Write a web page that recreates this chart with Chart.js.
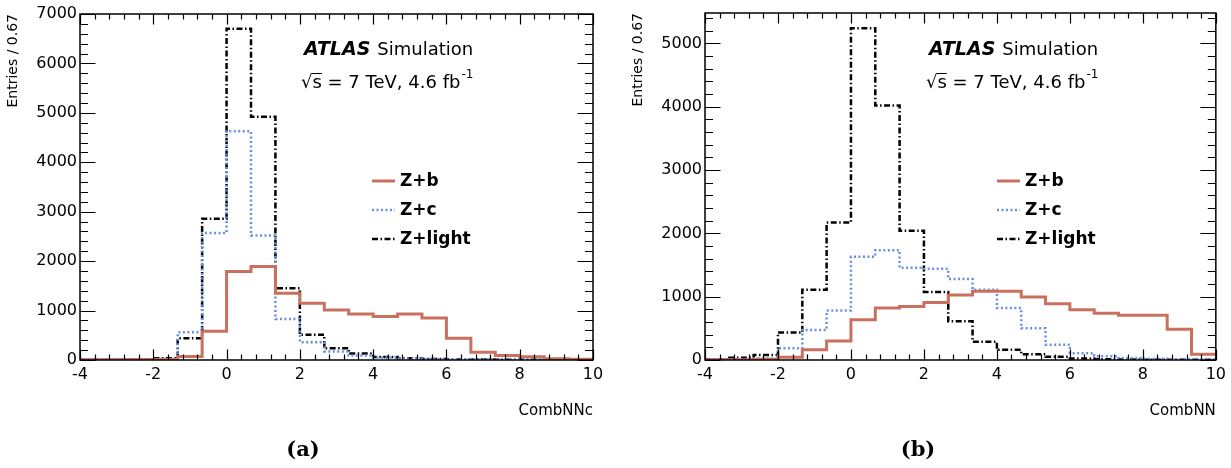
<!DOCTYPE html>
<html>
<head>
<meta charset="utf-8">
<script src="https://cdn.jsdelivr.net/npm/chart.js@4/dist/chart.umd.min.js"></script>
<style>
  html, body { margin: 0; padding: 0; background: #fff; }
  #wrap { position: relative; width: 1231px; height: 468px; overflow: hidden; }
  canvas { position: absolute; top: 0; }
</style>
</head>
<body>
<div id="wrap">
  <canvas id="left" width="615" height="468" style="left:0px"></canvas>
  <canvas id="right" width="616" height="468" style="left:615px"></canvas>
</div>
<script>
// bin edges (21 bins of 0.67 from -4 to 10)
var binEdges = [-4, -3.333, -2.667, -2, -1.333, -0.667, 0, 0.667, 1.333, 2, 2.667,
                3.333, 4, 4.667, 5.333, 6, 6.667, 7.333, 8, 8.667, 9.333, 10];
var xTicks = [-4, -2, 0, 2, 4, 6, 8, 10];
var yTicksLeft = [0, 1000, 2000, 3000, 4000, 5000, 6000, 7000];
var yTicksRight = [0, 1000, 2000, 3000, 4000, 5000];

// (a) CombNNc
var leftZb     = [5, 5, 8, 12, 70, 580, 1790, 1890, 1350, 1150, 1010, 930, 880, 930, 850, 440, 155, 90, 65, 25, 15];
var leftZc     = [2, 3, 5, 20, 560, 2570, 4630, 2520, 830, 360, 170, 90, 50, 30, 20, 12, 8, 5, 3, 2, 1];
var leftZlight = [3, 5, 10, 35, 440, 2860, 6700, 4920, 1450, 510, 240, 130, 60, 35, 20, 12, 8, 5, 3, 2, 1];

// (b) CombNN
var rightZb     = [3, 5, 10, 42, 160, 300, 635, 820, 846, 910, 1025, 1085, 1085, 995, 890, 795, 740, 705, 705, 487, 90];
var rightZc     = [3, 8, 25, 185, 475, 780, 1630, 1735, 1455, 1440, 1280, 1110, 820, 500, 240, 105, 60, 30, 18, 10, 5];
var rightZlight = [10, 35, 80, 435, 1110, 2170, 5240, 4020, 2040, 1075, 610, 290, 160, 90, 50, 25, 12, 8, 5, 3, 2];

var seriesNames  = ['Z+b', 'Z+c', 'Z+light'];
var seriesColors = ['#c9705f', '#6a8fe0', '#000000'];
var seriesDash   = [[], [2, 2.5], [6, 2.5, 1.5, 2.5]];
var seriesWidth  = [3, 2.5, 2.5];

var FONT = '"DejaVu Sans", "Liberation Sans", sans-serif';

// each bin becomes a flat segment from its low edge to its high edge
function histPoints(values) {
    var pts = [];
    for (var i = 0; i < values.length; i++) {
        pts.push({x: binEdges[i], y: values[i]});
        pts.push({x: binEdges[i + 1], y: values[i]});
    }
    return pts;
}

// frame, inner ticks, titles, ATLAS label and legend
var decor = {
    id: 'atlasDecor',
    afterDraw: function(chart, args, opts) {
        var ctx = chart.ctx;
        var a = chart.chartArea;
        var xs = chart.scales.x, ys = chart.scales.y;
        ctx.save();
        ctx.strokeStyle = '#000';
        ctx.fillStyle = '#000';

        // frame
        ctx.lineWidth = 1.5;
        ctx.strokeRect(a.left, a.top, a.right - a.left, a.bottom - a.top);

        // ticks inside the frame
        ctx.lineWidth = 1.2;
        ctx.beginPath();
        for (var v = -4; v <= 10.001; v += 0.4) {
            var px = Math.round(xs.getPixelForValue(v)) + 0.5;
            var major = Math.abs(v / 2 - Math.round(v / 2)) < 0.01;
            var len = major ? 10.5 : 5.5;
            ctx.moveTo(px, a.bottom); ctx.lineTo(px, a.bottom - len);
            ctx.moveTo(px, a.top); ctx.lineTo(px, a.top + len);
        }
        for (var w = 0; w <= ys.max + 0.1; w += 200) {
            var py = Math.round(ys.getPixelForValue(w)) + 0.5;
            var len2 = (w % 1000 === 0) ? 15.5 : 8;
            ctx.moveTo(a.left, py); ctx.lineTo(a.left + len2, py);
            ctx.moveTo(a.right, py); ctx.lineTo(a.right - len2, py);
        }
        ctx.stroke();

        // axis titles
        ctx.textBaseline = 'middle';
        ctx.font = '14px ' + FONT;
        ctx.save();
        ctx.translate(a.left - 67, a.top);
        ctx.rotate(-Math.PI / 2);
        ctx.textAlign = 'right';
        ctx.fillText('Entries / 0.67', 0, 0);
        ctx.restore();

        ctx.font = '15px ' + FONT;
        ctx.textAlign = 'right';
        ctx.fillText(opts.xTitle, a.right, 411);

        // caption
        ctx.font = 'bold 21px "DejaVu Serif", "Liberation Serif", serif';
        ctx.textAlign = 'center';
        ctx.fillText(opts.caption, 303, 451);

        // ATLAS Simulation
        ctx.textAlign = 'left';
        ctx.font = 'italic bold 19px ' + FONT;
        ctx.fillText('ATLAS', a.left + 224, 50);
        var wAtlas = ctx.measureText('ATLAS').width;
        ctx.font = '18px ' + FONT;
        ctx.fillText('Simulation', a.left + 224 + wAtlas + 7, 50);

        // sqrt(s) line
        var x0 = a.left + 221, y0 = 83;
        ctx.font = '18px ' + FONT;
        var wr = ctx.measureText('\u221A').width;
        var wsq = ctx.measureText('\u221As').width;
        ctx.fillText('\u221As = 7 TeV, 4.6 fb', x0, y0);
        ctx.lineWidth = 1;
        ctx.beginPath();
        ctx.moveTo(x0 + wr - 1, y0 - 9.5);
        ctx.lineTo(x0 + wsq, y0 - 9.5);
        ctx.stroke();
        var wAll = ctx.measureText('\u221As = 7 TeV, 4.6 fb').width;
        ctx.font = '12px ' + FONT;
        ctx.fillText('-1', x0 + wAll + 1, y0 - 8);

        // legend
        for (var i = 0; i < seriesNames.length; i++) {
            var ly = 181 + i * 29;
            ctx.strokeStyle = seriesColors[i];
            ctx.lineWidth = seriesWidth[i];
            ctx.setLineDash(seriesDash[i]);
            ctx.beginPath();
            ctx.moveTo(a.left + 292, ly);
            ctx.lineTo(a.left + 315, ly);
            ctx.stroke();
            ctx.setLineDash([]);
            ctx.fillStyle = '#000';
            ctx.font = 'bold 17px ' + FONT;
            ctx.fillText(seriesNames[i], a.left + 320, ly + 1);
        }
        ctx.restore();
    }
};

function plainTick(v) { return String(v); }

function makePanel(canvasId, values, yMax, yTicks, axisWidth, pad, xTitle, caption) {
    var datasets = [];
    for (var i = 0; i < seriesNames.length; i++) {
        datasets.push({
            label: seriesNames[i],
            data: histPoints(values[i]),
            borderColor: seriesColors[i],
            borderWidth: seriesWidth[i],
            borderDash: seriesDash[i],
            pointRadius: 0,
            fill: false,
            tension: 0
        });
    }
    return new Chart(document.getElementById(canvasId), {
        type: 'line',
        data: {datasets: datasets},
        options: {
            responsive: false,
            animation: false,
            devicePixelRatio: 1,
            layout: {padding: pad, autoPadding: false},
            plugins: {
                legend: {display: false},
                tooltip: {enabled: false},
                atlasDecor: {xTitle: xTitle, caption: caption}
            },
            scales: {
                x: {
                    type: 'linear', min: -4, max: 10,
                    afterBuildTicks: function(s) { s.ticks = xTicks.map(function(v) { return {value: v}; }); },
                    afterFit: function(s) { s.height = 108; },
                    grid: {display: false, drawTicks: false},
                    border: {display: false},
                    ticks: {padding: 5, maxRotation: 0, color: '#000', callback: plainTick,
                            font: {family: FONT, size: 16}}
                },
                y: {
                    type: 'linear', min: 0, max: yMax,
                    afterBuildTicks: function(s) { s.ticks = yTicks.map(function(v) { return {value: v}; }); },
                    afterFit: function(s) { s.width = axisWidth; },
                    grid: {display: false, drawTicks: false},
                    border: {display: false},
                    ticks: {padding: 3, color: '#000', callback: plainTick,
                            font: {family: FONT, size: 16}}
                }
            }
        },
        plugins: [decor]
    });
}

makePanel('left', [leftZb, leftZc, leftZlight], 7000, yTicksLeft, 80,
          {top: 14, right: 22, left: 0, bottom: 0}, 'CombNNc', '(a)');
makePanel('right', [rightZb, rightZc, rightZlight], 5480, yTicksRight, 90,
          {top: 13, right: 13, left: 0, bottom: 0}, 'CombNN', '(b)');
</script>
</body>
</html>
